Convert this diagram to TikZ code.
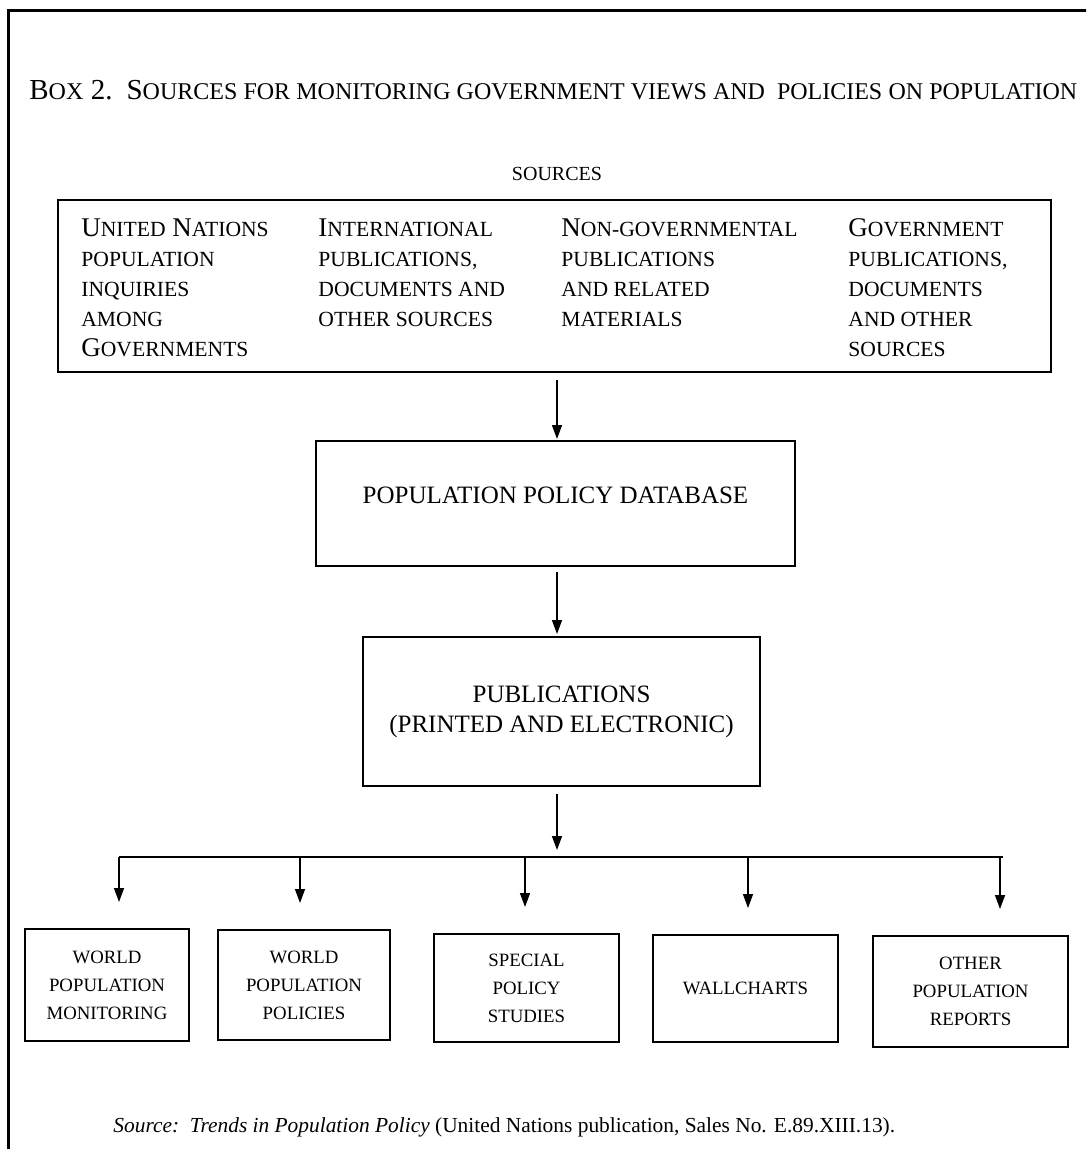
\documentclass[tikz,border=0pt]{standalone}
\usepackage{fontspec}
\setmainfont{Liberation Serif}
\usetikzlibrary{arrows.meta, calc}
\newcommand{\smc}[2][10.8pt]{{\fontsize{#1}{15pt}\selectfont #2}}

\begin{document}
\begin{tikzpicture}[x=0.5pt, y=-0.5pt,
	box/.style={draw, line width=1pt, inner sep=0pt, align=center},
	arr/.style={line width=0.7pt, -{Triangle[length=7pt, width=5pt]}},
	big/.style={font=\fontsize{13.5pt}{15pt}\selectfont},
	mid/.style={font=\fontsize{12.5pt}{15pt}\selectfont},
	small/.style={font=\fontsize{9.4pt}{14pt}\selectfont}]
	\useasboundingbox (0,0) rectangle (1086,1149);
	\clip (0,0) rectangle (1086,1149);
	% frame, cut off at the right and at the bottom
	\draw [line width=1.5pt] (8,1170) -- (8,11) -- (1110,11);
	\node [font=\fontsize{14.5pt}{15pt}\selectfont, anchor=base west, inner sep=0pt] (title) at (29,100)
		{\makebox[524pt][s]{B\smc[12pt]{OX} 2.\hspace{7pt}S\smc[12pt]{OURCES FOR MONITORING GOVERNMENT VIEWS AND\hspace{6pt}POLICIES ON POPULATION}}};
	\node [font=\fontsize{10pt}{11pt}\selectfont, anchor=base, inner sep=0pt] (head) at (557,181) {SOURCES};
	% sources
	\node [box, minimum width=496.5pt, minimum height=86pt] (src) at (554.5,286) {};
	\node [big, align=left, anchor=north west, inner sep=0pt] (srcA) at (81,218)
		{U\smc{NITED} N\smc{ATIONS}\\ \smc{POPULATION}\\ \smc{INQUIRIES}\\ \smc{AMONG}\\ G\smc{OVERNMENTS}};
	\node [big, align=left, anchor=north west, inner sep=0pt] (srcB) at (318,218)
		{I\smc{NTERNATIONAL}\\ \smc{PUBLICATIONS,}\\ \smc{DOCUMENTS AND}\\ \smc{OTHER SOURCES}};
	\node [big, align=left, anchor=north west, inner sep=0pt] (srcC) at (561,218)
		{N\smc{ON-GOVERNMENTAL}\\ \smc{PUBLICATIONS}\\ \smc{AND RELATED}\\ \smc{MATERIALS}};
	\node [big, align=left, anchor=north west, inner sep=0pt] (srcD) at (848,218)
		{G\smc{OVERNMENT}\\ \smc{PUBLICATIONS,}\\ \smc{DOCUMENTS}\\ \smc{AND OTHER}\\ \smc{SOURCES}};
	% database and publications
	\node [box, mid, minimum width=239.5pt, minimum height=62.5pt, text height=9pt, text depth=9pt] (db) at (555.5,503.5)
		{POPULATION POLICY DATABASE};
	\node [box, mid, minimum width=198.5pt, minimum height=74.5pt] (pub) at (561.5,711.5)
		{PUBLICATIONS\\(PRINTED AND ELECTRONIC)};
	% outputs
	\node [box, small, minimum width=82pt, minimum height=56pt] (out1) at (107,985) {WORLD\\POPULATION\\MONITORING};
	\node [box, small, minimum width=86pt, minimum height=55pt] (out2) at (304,985) {WORLD\\POPULATION\\POLICIES};
	\node [box, small, minimum width=92.5pt, minimum height=54pt] (out3) at (526.5,988) {SPECIAL\\POLICY\\STUDIES};
	\node [box, small, minimum width=92.5pt, minimum height=53.5pt] (out4) at (745.5,988.5) {WALLCHARTS};
	\node [box, small, minimum width=97.5pt, minimum height=55.5pt] (out5) at (970.5,991.5) {OTHER\\POPULATION\\REPORTS};
	% connectors
	\coordinate (spine) at (557,857);
	\coordinate (barL) at (119,857);
	\coordinate (barR) at (1003,857);
	\draw [arr, shorten <=3.5pt, shorten >=0.5pt] (src.south -| spine) -- (db.north -| spine);
	\draw [arr, shorten <=2.5pt, shorten >=1pt] (db.south -| spine) -- (pub.north -| spine);
	\draw [arr, shorten <=3.5pt, shorten >=3.5pt] (pub.south -| spine) -- (spine);
	\draw [line width=1pt] (barL) -- (barR);
	\foreach \x [count=\i] in {119,300,525,748,1000} {
		\coordinate (d\i) at (\x,857);
		\draw [arr, shorten >=13pt] (d\i) -- (d\i |- out\i.north);
	}
	\node [font=\fontsize{10.7pt}{12pt}\selectfont, anchor=base west, inner sep=0pt] (note) at (113,1132)
		{\textit{Source:\ \ Trends in Population Policy} (United Nations publication, Sales No. E.89.XIII.13).};
\end{tikzpicture}
\end{document}
